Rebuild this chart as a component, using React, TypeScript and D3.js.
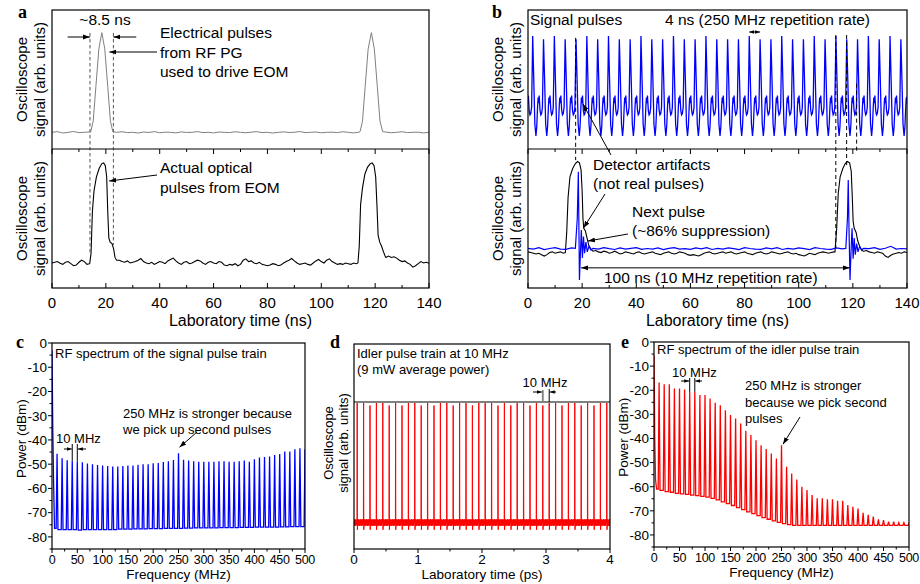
import * as d3 from "d3";

type P = [number, number];

const SANS = "'Liberation Sans', Arial, Helvetica, sans-serif";
const SERIF = "'Liberation Serif', 'Times New Roman', serif";

// ---------- shared tick values ----------
const timeTicksNs = [0, 20, 40, 60, 80, 100, 120, 140];
const timeMinorNs = [10, 30, 50, 70, 90, 110, 130];
const freqTicksMHz = [0, 50, 100, 150, 200, 250, 300, 350, 400, 450, 500];
const powerTicksDbm = [0, -10, -20, -30, -40, -50, -60, -70, -80];
const psTicks = [0, 1, 2, 3, 4];
const harmonicsMHz = d3.range(10, 501, 10);

// ---------- panel a : electrical drive (grey) and optical output (black) ----------
const aElectricalBase = [
  0.12, 0.125, 0.115, 0.12, 0.126, 0.118, 0.12, 0.123, 0.116, 0.121,
  0.125, 0.117, 0.12, 0.124, 0.118, 0.12, 0.115, 0.122, 0.119, 0.125,
  0.117, 0.121, 0.12, 0.116, 0.123, 0.119, 0.12, 0.125, 0.118, 0.12,
  0.116, 0.122, 0.12, 0.118, 0.124, 0.12, 0.117, 0.121, 0.125, 0.118,
  0.12, 0.115, 0.12, 0.123, 0.119, 0.12, 0.126, 0.118, 0.12, 0.122,
  0.117, 0.12, 0.121, 0.118, 0.124, 0.12, 0.116, 0.121, 0.12, 0.125,
  0.118, 0.12, 0.122, 0.117, 0.12, 0.124, 0.118, 0.12, 0.121, 0.116, 0.12,
];
const aElectricalPulses: P[][] = [
  [[14.4, 0.125], [15.3, 0.2], [16.3, 0.45], [17.4, 0.72], [18.5, 0.837], [19.6, 0.72], [20.7, 0.45], [21.7, 0.2], [22.6, 0.125]],
  [[114.4, 0.125], [115.3, 0.2], [116.3, 0.45], [117.4, 0.72], [118.6, 0.837], [119.7, 0.72], [120.8, 0.45], [121.8, 0.2], [122.8, 0.125]],
];
const aOpticalBase = [
  0.18, 0.185, 0.19, 0.178, 0.17, 0.185, 0.19, 0.175, 0.16, 0.165,
  0.185, 0.2, 0.19, 0.17, 0.175, 0.18, 0.18, 0.18, 0.18, 0.18,
  0.18, 0.18, 0.18, 0.18, 0.19, 0.2, 0.19, 0.185, 0.195, 0.18,
  0.185, 0.19, 0.2, 0.212, 0.19, 0.18, 0.175, 0.185, 0.17, 0.18,
  0.19, 0.185, 0.175, 0.195, 0.205, 0.215, 0.195, 0.18, 0.17, 0.185,
  0.19, 0.175, 0.18, 0.19, 0.2, 0.195, 0.18, 0.17, 0.185, 0.19,
  0.18, 0.175, 0.19, 0.185, 0.165, 0.16, 0.17, 0.165, 0.175, 0.16,
  0.17, 0.2, 0.21, 0.19, 0.195, 0.18, 0.175, 0.185, 0.17, 0.165,
  0.16, 0.165, 0.175, 0.17, 0.16, 0.165, 0.18, 0.19, 0.2, 0.212,
  0.195, 0.18, 0.17, 0.175, 0.18, 0.17, 0.165, 0.18, 0.195, 0.205,
  0.19, 0.18, 0.2, 0.21, 0.19, 0.18, 0.17, 0.175, 0.17, 0.18,
  0.175, 0.17, 0.18, 0.175, 0.18, 0.18, 0.18, 0.18, 0.18, 0.18,
  0.18, 0.18, 0.18, 0.18, 0.22, 0.23, 0.22, 0.225, 0.215, 0.2,
  0.19, 0.195, 0.18, 0.17, 0.15, 0.16, 0.175, 0.19, 0.18, 0.185, 0.178,
];
const aOpticalPulses: P[][] = [
  [[14, 0.175], [14.5, 0.25], [15, 0.55], [15.6, 0.7], [16.5, 0.8], [17.5, 0.86], [18.5, 0.895], [19.2, 0.9], [19.8, 0.88], [20.3, 0.8], [20.7, 0.55], [21.1, 0.36], [21.6, 0.33], [22.3, 0.32], [22.9, 0.28], [23.4, 0.22], [24, 0.2]],
  [[113.6, 0.18], [114.1, 0.3], [114.6, 0.6], [115.3, 0.72], [116.2, 0.82], [117.2, 0.87], [118.2, 0.895], [118.9, 0.9], [119.6, 0.88], [120.2, 0.8], [120.7, 0.58], [121.1, 0.38], [121.7, 0.33], [122.4, 0.3], [123.1, 0.26], [123.7, 0.23]],
];
const aGuideTimes = [14.1, 22.8];

// ---------- panel b : 250 MHz signal train (top), picked pulses (bottom) ----------
const bTopFirstPeak = 1.73;
const bTopPeriod = 4;
const bTopPeaks = [
  0.813, 0.79, 0.813, 0.79, 0.79, 0.813, 0.79, 0.813, 0.79, 0.79,
  0.813, 0.79, 0.79, 0.813, 0.79, 0.79, 0.813, 0.79, 0.79, 0.79,
  0.813, 0.79, 0.79, 0.813, 0.79, 0.79, 0.813, 0.79, 0.813, 0.79,
  0.79, 0.813, 0.79, 0.813, 0.79,
];
const bTopShape: P[] = [
  [0.4, 0.5], [0.8, 0.18], [1.2, 0.094], [1.5, 0.16], [1.8, 0.3], [2.0, 0.37], [2.2, 0.33],
  [2.4, 0.385], [2.7, 0.28], [3.0, 0.245], [3.3, 0.255], [3.6, 0.3], [3.85, 0.6],
];
const bBlackBase = [
  0.26, 0.255, 0.25, 0.245, 0.25, 0.24, 0.23, 0.24, 0.255, 0.26,
  0.25, 0.255, 0.26, 0.25, 0.255, 0.26, 0.26, 0.26, 0.26, 0.26,
  0.26, 0.26, 0.26, 0.26, 0.265, 0.27, 0.26, 0.255, 0.265, 0.26,
  0.25, 0.255, 0.265, 0.255, 0.245, 0.25, 0.26, 0.255, 0.25, 0.245,
  0.255, 0.26, 0.25, 0.245, 0.25, 0.255, 0.26, 0.25, 0.245, 0.24,
  0.25, 0.255, 0.26, 0.25, 0.245, 0.25, 0.26, 0.255, 0.25, 0.24,
  0.235, 0.24, 0.235, 0.23, 0.24, 0.25, 0.255, 0.26, 0.25, 0.245,
  0.25, 0.255, 0.26, 0.25, 0.255, 0.26, 0.25, 0.245, 0.25, 0.255,
  0.26, 0.25, 0.245, 0.24, 0.25, 0.255, 0.26, 0.25, 0.245, 0.25,
  0.26, 0.255, 0.25, 0.245, 0.25, 0.255, 0.26, 0.25, 0.245, 0.25,
  0.24, 0.235, 0.23, 0.24, 0.25, 0.245, 0.24, 0.25, 0.255, 0.26,
  0.255, 0.25, 0.255, 0.26, 0.26, 0.26, 0.26, 0.26, 0.26, 0.26,
  0.26, 0.26, 0.26, 0.26, 0.265, 0.27, 0.26, 0.255, 0.25, 0.26,
  0.255, 0.25, 0.23, 0.22, 0.235, 0.245, 0.25, 0.255, 0.25, 0.26, 0.255,
];
const bBlackPulses: P[][] = [
  [[13.8, 0.255], [14.3, 0.4], [14.8, 0.65], [15.5, 0.8], [16.5, 0.86], [17.5, 0.895], [18.3, 0.91], [19, 0.9], [19.6, 0.85], [20, 0.7], [20.3, 0.5], [20.6, 0.43], [21.2, 0.41], [21.8, 0.36], [22.4, 0.31], [23.2, 0.28], [24, 0.265]],
  [[113.4, 0.26], [114, 0.42], [114.6, 0.68], [115.3, 0.8], [116.3, 0.86], [117.2, 0.895], [118, 0.91], [118.8, 0.9], [119.4, 0.84], [119.8, 0.65], [120.1, 0.48], [120.5, 0.43], [121.2, 0.4], [121.8, 0.34], [122.5, 0.3], [123.3, 0.27], [124, 0.265]],
];
const bBlueBase = [
  0.285, 0.28, 0.29, 0.276, 0.284, 0.29, 0.28, 0.278, 0.288, 0.282,
  0.29, 0.276, 0.285, 0.28, 0.29, 0.283, 0.277, 0.288, 0.28, 0.285,
  0.29, 0.278, 0.284, 0.28, 0.288, 0.276, 0.285, 0.29, 0.28, 0.283,
  0.278, 0.288, 0.282, 0.29, 0.277, 0.285, 0.28, 0.288, 0.283, 0.276,
  0.29, 0.284, 0.28, 0.278, 0.288, 0.282, 0.29, 0.277, 0.285, 0.28,
  0.288, 0.283, 0.276, 0.29, 0.284, 0.28, 0.278, 0.288, 0.282, 0.29,
  0.277, 0.285, 0.28, 0.284, 0.29, 0.278, 0.286, 0.3, 0.28, 0.284, 0.282,
];
const bBlueArtifacts: P[][] = [
  [[17.5, 0.285], [18.2, 0.5], [18.6, 0.837], [18.8, 0.45], [19.0, 0.058], [19.3, 0.22], [19.7, 0.417], [20.1, 0.216], [20.5, 0.37], [20.9, 0.25], [21.4, 0.33], [21.9, 0.26], [22.5, 0.3], [23.2, 0.275], [24, 0.285]],
  [[117.4, 0.285], [118, 0.5], [118.3, 0.777], [118.6, 0.4], [118.95, 0.058], [119.3, 0.25], [119.7, 0.43], [120.1, 0.21], [120.5, 0.36], [120.9, 0.24], [121.4, 0.32], [121.9, 0.26], [122.5, 0.3], [123.2, 0.275], [124, 0.285]],
];
// dashed guides: time, top-panel start value, bottom-panel end value
const bGuides = [
  { t: 17.6, from: 0.8, to: 0.92 },
  { t: 113.7, from: 0.82, to: 0.29 },
  { t: 117.7, from: 0.82, to: 0.885 },
  { t: 121.4, from: 0.47, to: 0.97 },
];

// ---------- panel c : RF spectrum of signal train (dBm at each 10 MHz harmonic) ----------
const cStart: P[] = [[0, -3], [1.5, -35], [3, -56], [5, -76.5]];
const cPeaks = [
  -45.7, -47.6, -48.4, -48.6, -49, -49.2, -49.7, -50, -50.3, -50.5,
  -50.8, -51, -51, -50.8, -50.6, -50.5, -50.2, -50, -50, -49.6,
  -49.5, -49.1, -48.8, -48.3, -45.5, -48.2, -48.5, -48.8, -49, -49,
  -49, -49, -48.8, -48.8, -49, -49, -48.8, -48.5, -49, -48,
  -47.3, -47, -46.8, -46.2, -45.8, -44.8, -44.8, -43.8, -43.4, -43.8,
];
const cFloors = [
  -77, -77, -77, -77, -77.2, -77, -77, -77, -77, -77,
  -77, -77, -76.8, -76.8, -76.8, -76.7, -76.7, -76.7, -76.6, -76.6,
  -76.6, -76.5, -76.5, -76.5, -76.5, -76.4, -76.4, -76.3, -76.3, -76.3,
  -76.3, -76.3, -76.2, -76.2, -76.2, -76.2, -76.1, -76.1, -76.1, -76,
  -76, -76, -76, -76, -75.9, -75.9, -75.8, -75.8, -75.8, -75.8,
];

// ---------- panel d : idler pulse train ----------
const dFirstPulse = 0.05;
const dPeriod = 0.1;
const dBaseline = 0.129;
const dHeights = [
  0.717, 0.717, 0.7, 0.717, 0.717, 0.7, 0.717, 0.7, 0.717, 0.717,
  0.7, 0.717, 0.7, 0.717, 0.717, 0.7, 0.717, 0.717, 0.7, 0.717,
  0.717, 0.717, 0.7, 0.717, 0.7, 0.717, 0.717, 0.7, 0.717, 0.7,
  0.717, 0.717, 0.7, 0.717, 0.717, 0.7, 0.717, 0.7, 0.717, 0.717,
];
const dNoiseShape: P[] = [
  [0.008, 0.016], [0.014, -0.014], [0.02, 0.015], [0.026, -0.016], [0.032, 0.013],
  [0.038, -0.015], [0.044, 0.016], [0.05, -0.013], [0.056, 0.015], [0.062, -0.016],
  [0.068, 0.014], [0.074, -0.015], [0.08, 0.016], [0.086, -0.014], [0.092, 0.012],
];

// ---------- panel e : RF spectrum of idler train ----------
const eStart: P[] = [[0, -5.5], [1.5, -40], [3, -57], [5, -61]];
const ePeaks = [
  -16.8, -17.5, -17.5, -19.3, -19.3, -19.7, -20.7, -20.7, -22, -22,
  -23.4, -25.2, -26.2, -28.3, -30.3, -31.7, -33.8, -36.8, -38.6, -40.7,
  -42.8, -44.4, -46.2, -48.3, -42.8, -51.7, -54.5, -57, -60, -61.4,
  -63.4, -64.8, -64.8, -65.2, -65.2, -65.8, -65.8, -67.6, -68.3, -69,
  -70.8, -71.7, -72.4, -73.5, -73.8, -74.5, -74.5, -74.9, -74.9, -75.2,
];
const eFloors = [
  -61.5, -62, -62.3, -62.8, -63, -63.2, -63.5, -63.7, -64, -64.3,
  -64.8, -65.5, -66.3, -67, -67.8, -68.7, -69.5, -70.4, -71.2, -72,
  -72.8, -73.5, -74.2, -74.8, -75.3, -75.7, -76, -76, -76, -76,
  -76, -76, -76, -76, -76, -76, -76, -76, -76, -76,
  -76, -76, -76, -76, -76, -76, -76, -76, -76, -76,
];

// ---------- helpers ----------
function withPulses(base: number[], span: number, pulses: P[][]): P[] {
  const step = span / (base.length - 1);
  const pts: P[] = [];
  base.forEach((v, i) => {
    const t = i * step;
    if (!pulses.some((p) => t >= p[0][0] && t <= p[p.length - 1][0])) pts.push([t, v]);
  });
  pulses.forEach((p) => pts.push(...p));
  return pts.sort((a, b) => a[0] - b[0]);
}

function pulseTrain(first: number, period: number, peaks: number[], shape: P[]): P[] {
  const pts: P[] = [];
  for (let i = -1; i < peaks.length; i++) {
    const t0 = first + period * i;
    if (i >= 0) pts.push([t0, peaks[i]]);
    shape.forEach(([dt, v]) => pts.push([t0 + dt, v]));
  }
  return pts;
}

function idlerTrain(): P[] {
  const pts: P[] = [];
  for (let i = -1; i < dHeights.length; i++) {
    const t0 = dFirstPulse + dPeriod * i;
    if (i >= 0) pts.push([t0 - 0.003, dBaseline], [t0, dHeights[i]], [t0 + 0.003, dBaseline - 0.035]);
    dNoiseShape.forEach(([dt, dv]) => pts.push([t0 + dt, dBaseline + dv]));
  }
  return pts;
}

function spectrumTrace(start: P[], peaks: number[], floors: number[]): P[] {
  const pts: P[] = [...start];
  harmonicsMHz.forEach((f, i) => {
    const before = i === 0 ? start[start.length - 1][1] : floors[i - 1];
    pts.push([f - 1.8, before], [f, peaks[i]], [f + 1.8, floors[i]]);
  });
  return pts;
}

type Lin = d3.ScaleLinear<number, number>;

const Arrow = ({ x1, y1, x2, y2, both = false, small = false }: any) => {
  const m = `url(#${small ? "ahs" : "ah"})`;
  return (
    <line x1={x1} y1={y1} x2={x2} y2={y2} stroke="#000" strokeWidth={1}
      markerEnd={m} markerStart={both ? m : undefined} />
  );
};

const Lines = ({ x, y, lines, size, lh }: any) => (
  <text x={x} y={y} fontSize={size}>
    {lines.map((l: string, i: number) => (
      <tspan key={i} x={x} dy={i ? lh : 0}>{l}</tspan>
    ))}
  </text>
);

const Letter = ({ x, y, c }: any) => (
  <text x={x} y={y} fontFamily={SERIF} fontWeight="bold" fontSize={18}>{c}</text>
);

function StackFrame({ x, top, mid, bottom }: { x: Lin; top: number; mid: number; bottom: number }) {
  const [x0, x1] = x.range();
  return (
    <g>
      <rect x={x0} y={top} width={x1 - x0} height={bottom - top} fill="none" stroke="#000" strokeWidth={1.2} />
      <line x1={x0} x2={x1} y1={mid} y2={mid} stroke="#000" strokeWidth={1.2} />
      {timeTicksNs.map((t) => (
        <g key={t}>
          <line x1={x(t)} x2={x(t)} y1={bottom} y2={bottom - 5} stroke="#000" />
          <line x1={x(t)} x2={x(t)} y1={mid} y2={mid + 5} stroke="#000" />
          <text x={x(t)} y={bottom + 20} textAnchor="middle" fontSize={15}>{t}</text>
        </g>
      ))}
      {timeMinorNs.map((t) => (
        <g key={t}>
          <line x1={x(t)} x2={x(t)} y1={bottom} y2={bottom - 3} stroke="#000" />
          <line x1={x(t)} x2={x(t)} y1={mid} y2={mid + 3} stroke="#000" />
        </g>
      ))}
      <text x={x(70)} y={bottom + 38} textAnchor="middle" fontSize={16}>Laboratory time (ns)</text>
      {[(top + mid) / 2, (mid + bottom) / 2].map((cy) => (
        <g key={cy} fontSize={15} textAnchor="middle">
          <text transform={`translate(${x0 - 25},${cy}) rotate(-90)`}>Oscilloscope</text>
          <text transform={`translate(${x0 - 7},${cy}) rotate(-90)`}>signal (arb. units)</text>
        </g>
      ))}
    </g>
  );
}

function SpectrumFrame({ x, y }: { x: Lin; y: Lin }) {
  const [x0, x1] = x.range();
  const [yb, yt] = y.range();
  return (
    <g>
      <rect x={x0} y={yt} width={x1 - x0} height={yb - yt} fill="none" stroke="#000" strokeWidth={1.2} />
      {d3.range(-85, 1, 5).map((v) => (
        <line key={v} x1={x0} x2={x0 - (v % 10 === 0 ? 4 : 2.5)} y1={y(v)} y2={y(v)} stroke="#000" />
      ))}
      {powerTicksDbm.map((v) => (
        <text key={v} x={x0 - 5} y={y(v) + 4.8} textAnchor="end" fontSize={13.5}>{v === 0 ? "0" : `-${-v}`}</text>
      ))}
      {d3.range(0, 501, 25).map((f) => (
        <line key={f} x1={x(f)} x2={x(f)} y1={yb} y2={yb + (f % 50 === 0 ? 4 : 2.5)} stroke="#000" />
      ))}
      {freqTicksMHz.map((f) => (
        <text key={f} x={x(f)} y={yb + 15} textAnchor="middle" fontSize={12.5} letterSpacing={-0.3}>{f}</text>
      ))}
      <text x={x(250)} y={yb + 30} textAnchor="middle" fontSize={13.5}>Frequency (MHz)</text>
      <text transform={`translate(${x0 - 26},${y(-39.5)}) rotate(-90)`} textAnchor="middle" fontSize={13.5}>Power (dBm)</text>
    </g>
  );
}

function PanelA() {
  const x = d3.scaleLinear().domain([0, 140]).range([52, 429]);
  const yT = d3.scaleLinear().domain([0, 1]).range([149, 10]);
  const yB = d3.scaleLinear().domain([0, 1]).range([288, 149]);
  const lineT = d3.line<P>().x((d) => x(d[0])).y((d) => yT(d[1]));
  const lineB = d3.line<P>().x((d) => x(d[0])).y((d) => yB(d[1]));
  const elec = withPulses(aElectricalBase, 140, aElectricalPulses);
  const opt = withPulses(aOpticalBase, 140, aOpticalPulses);
  return (
    <g>
      <path d={lineT(elec) ?? ""} fill="none" stroke="#808080" strokeWidth={1} />
      <path d={lineB(opt) ?? ""} fill="none" stroke="#000" strokeWidth={1.1} />
      <line x1={x(aGuideTimes[0])} x2={x(aGuideTimes[0])} y1={yT(0.835)} y2={yB(0.25)} stroke="#555" strokeDasharray="3.5,2.5" />
      <line x1={x(aGuideTimes[1])} x2={x(aGuideTimes[1])} y1={yT(0.835)} y2={yB(0.31)} stroke="#555" strokeDasharray="3.5,2.5" />
      <StackFrame x={x} top={10} mid={149} bottom={288} />
      <Letter x={18} y={18} c="a" />
      <text x={105} y={25} textAnchor="middle" fontSize={15.5}>~8.5 ns</text>
      <Arrow x1={x(5.8)} y1={37} x2={x(aGuideTimes[0])} y2={37} />
      <Arrow x1={x(31.3)} y1={37} x2={x(aGuideTimes[1])} y2={37} />
      <Lines x={160} y={38} lines={["Electrical pulses", "from RF PG", "used to drive EOM"]} size={15.5} lh={19.5} />
      <Arrow x1={157} y1={52} x2={x(21.3)} y2={52} />
      <Lines x={160} y={173} lines={["Actual optical", "pulses from EOM"]} size={15.5} lh={19.5} />
      <Arrow x1={157} y1={175} x2={x(21.2)} y2={181} />
    </g>
  );
}

function PanelB() {
  const x = d3.scaleLinear().domain([0, 140]).range([528, 907]);
  const yT = d3.scaleLinear().domain([0, 1]).range([149, 10]);
  const yB = d3.scaleLinear().domain([0, 1]).range([288, 149]);
  const lineT = d3.line<P>().x((d) => x(d[0])).y((d) => yT(d[1]));
  const lineB = d3.line<P>().x((d) => x(d[0])).y((d) => yB(d[1]));
  const top = pulseTrain(bTopFirstPeak, bTopPeriod, bTopPeaks, bTopShape);
  const black = withPulses(bBlackBase, 140, bBlackPulses);
  const blue = withPulses(bBlueBase, 140, bBlueArtifacts);
  const p20 = bTopFirstPeak + bTopPeriod * 20;
  return (
    <g>
      <g clipPath="url(#clipB)">
        <path d={lineT(top) ?? ""} fill="none" stroke="#0000ff" strokeWidth={1.3} />
        <path d={lineB(black) ?? ""} fill="none" stroke="#000" strokeWidth={1.1} />
        <path d={lineB(blue) ?? ""} fill="none" stroke="#0000ff" strokeWidth={1.2} />
      </g>
      {bGuides.map((g) => (
        <line key={g.t} x1={x(g.t)} x2={x(g.t)} y1={yT(g.from)} y2={yB(g.to)} stroke="#000" strokeDasharray="4,3" />
      ))}
      <StackFrame x={x} top={10} mid={149} bottom={288} />
      <Letter x={492} y={18} c="b" />
      <text x={530} y={25} fontSize={15.5}>Signal pulses</text>
      <text x={665} y={25} fontSize={15.5}>4 ns (250 MHz repetition rate)</text>
      <Arrow x1={x(p20)} y1={32} x2={x(p20 + bTopPeriod)} y2={32} both small />
      <Lines x={593} y={170} lines={["Detector artifacts", "(not real pulses)"]} size={15.5} lh={19} />
      <Arrow x1={611} y1={155} x2={583} y2={104} />
      <Arrow x1={605} y1={194} x2={583.5} y2={228} />
      <Lines x={632} y={217} lines={["Next pulse", "(~86% suppression)"]} size={15.5} lh={19} />
      <Arrow x1={628} y1={234} x2={588} y2={241} />
      <Arrow x1={x(19.6)} y1={yB(0.145)} x2={x(118.9)} y2={yB(0.145)} both />
      <text x={604} y={283} fontSize={15.5}>100 ns (10 MHz repetition rate)</text>
    </g>
  );
}

function PanelC() {
  const x = d3.scaleLinear().domain([0, 500]).range([52, 305]);
  const y = d3.scaleLinear().domain([-85, 0]).range([549, 343]);
  const line = d3.line<P>().x((d) => x(d[0])).y((d) => y(d[1]));
  const trace = spectrumTrace(cStart, cPeaks, cFloors);
  return (
    <g>
      <g clipPath="url(#clipC)">
        <path d={line(trace) ?? ""} fill="none" stroke="#0000ff" strokeWidth={1.3} />
      </g>
      <SpectrumFrame x={x} y={y} />
      <Letter x={16} y={348} c="c" />
      <text x={55} y={358} fontSize={13}>RF spectrum of the signal pulse train</text>
      <Lines x={123} y={418} lines={["250 MHz is stronger because", "we pick up second pulses"]} size={13} lh={16} />
      <Arrow x1={197} y1={432} x2={x(250) + 1} y2={y(cPeaks[24]) - 6} />
      <text x={56} y={443} fontSize={13}>10 MHz</text>
      <line x1={x(40)} x2={x(40)} y1={444} y2={y(cPeaks[3])} stroke="#000" />
      <line x1={x(50)} x2={x(50)} y1={444} y2={y(cPeaks[4])} stroke="#000" />
      <Arrow x1={64} y1={449} x2={x(40) - 0.5} y2={449} small />
      <Arrow x1={86} y1={449} x2={x(50) + 0.5} y2={449} small />
    </g>
  );
}

function PanelD() {
  const x = d3.scaleLinear().domain([0, 4]).range([354, 610]);
  const y = d3.scaleLinear().domain([0, 1]).range([549, 344]);
  const line = d3.line<P>().x((d) => x(d[0])).y((d) => y(d[1]));
  const trace = idlerTrain();
  const topLevel = d3.max(dHeights) ?? 0;
  const markA = dFirstPulse + dPeriod * 29;
  const markB = dFirstPulse + dPeriod * 30;
  return (
    <g>
      <g clipPath="url(#clipD)">
        <path d={line(trace) ?? ""} fill="none" stroke="#ff0000" strokeWidth={1} />
      </g>
      <line x1={354} x2={610} y1={y(topLevel)} y2={y(topLevel)} stroke="#808080" strokeWidth={1.8} />
      <rect x={354} y={344} width={256} height={205} fill="none" stroke="#000" strokeWidth={1.2} />
      {psTicks.map((t) => (
        <g key={t}>
          <line x1={x(t)} x2={x(t)} y1={549} y2={553} stroke="#000" />
          <text x={x(t)} y={564} textAnchor="middle" fontSize={13.5}>{t}</text>
        </g>
      ))}
      {[0.5, 1.5, 2.5, 3.5].map((t) => (
        <line key={t} x1={x(t)} x2={x(t)} y1={549} y2={551.5} stroke="#000" />
      ))}
      <text x={x(2)} y={579} textAnchor="middle" fontSize={13.5}>Laboratory time (ps)</text>
      <g fontSize={13} textAnchor="middle">
        <text transform={`translate(333,443) rotate(-90)`}>Oscilloscope</text>
        <text transform={`translate(348,443) rotate(-90)`}>signal (arb. units)</text>
      </g>
      <Letter x={330} y={348} c="d" />
      <Lines x={357} y={358} lines={["Idler pulse train at 10 MHz", "(9 mW average power)"]} size={13} lh={16} />
      <text x={545} y={387} textAnchor="middle" fontSize={13}>10 MHz</text>
      <line x1={x(markA)} x2={x(markA)} y1={390} y2={y(topLevel)} stroke="#808080" strokeWidth={1.8} />
      <line x1={x(markB)} x2={x(markB)} y1={389} y2={y(topLevel)} stroke="#000" />
      <Arrow x1={533} y1={392} x2={x(markA) - 1} y2={392} small />
      <Arrow x1={556} y1={392} x2={x(markB) + 0.5} y2={392} small />
    </g>
  );
}

function PanelE() {
  const x = d3.scaleLinear().domain([0, 500]).range([654, 909]);
  const y = d3.scaleLinear().domain([-85, 0]).range([547, 342]);
  const line = d3.line<P>().x((d) => x(d[0])).y((d) => y(d[1]));
  const trace = spectrumTrace(eStart, ePeaks, eFloors);
  return (
    <g>
      <g clipPath="url(#clipE)">
        <path d={line(trace) ?? ""} fill="none" stroke="#ff0000" strokeWidth={1.3} />
      </g>
      <SpectrumFrame x={x} y={y} />
      <Letter x={621} y={348} c="e" />
      <text x={657} y={354} fontSize={13}>RF spectrum of the idler pulse train</text>
      <text x={672} y={377} fontSize={13}>10 MHz</text>
      <line x1={x(70)} x2={x(70)} y1={378} y2={y(ePeaks[6])} stroke="#000" />
      <line x1={x(80)} x2={x(80)} y1={378} y2={y(ePeaks[7])} stroke="#000" />
      <Arrow x1={681} y1={381} x2={x(70) - 0.5} y2={381} small />
      <Arrow x1={702} y1={381} x2={x(80) + 0.5} y2={381} small />
      <Lines x={745} y={390} lines={["250 MHz is stronger", "because we pick second", "pulses"]} size={13} lh={16.5} />
      <Arrow x1={800} y1={417} x2={x(250) + 1.5} y2={y(ePeaks[24]) - 1} />
    </g>
  );
}

export default function App() {
  return (
    <svg width={920} height={584} viewBox="0 0 920 584" fontFamily={SANS}
      style={{ position: "absolute", left: 0, top: 0, display: "block" }}>
      <defs>
        <marker id="ah" viewBox="0 0 10 10" refX={10} refY={5} markerWidth={7} markerHeight={7}
          markerUnits="userSpaceOnUse" orient="auto-start-reverse">
          <path d="M0,1.5 L10,5 L0,8.5 z" fill="#000" />
        </marker>
        <marker id="ahs" viewBox="0 0 10 10" refX={10} refY={5} markerWidth={5} markerHeight={5}
          markerUnits="userSpaceOnUse" orient="auto-start-reverse">
          <path d="M0,1.5 L10,5 L0,8.5 z" fill="#000" />
        </marker>
        <clipPath id="clipB"><rect x={528} y={10} width={379} height={278} /></clipPath>
        <clipPath id="clipC"><rect x={52} y={343} width={253} height={206} /></clipPath>
        <clipPath id="clipD"><rect x={354} y={344} width={256} height={205} /></clipPath>
        <clipPath id="clipE"><rect x={654} y={342} width={255} height={205} /></clipPath>
      </defs>
      <rect width={920} height={584} fill="#fff" />
      <PanelA />
      <PanelB />
      <PanelC />
      <PanelD />
      <PanelE />
    </svg>
  );
}
